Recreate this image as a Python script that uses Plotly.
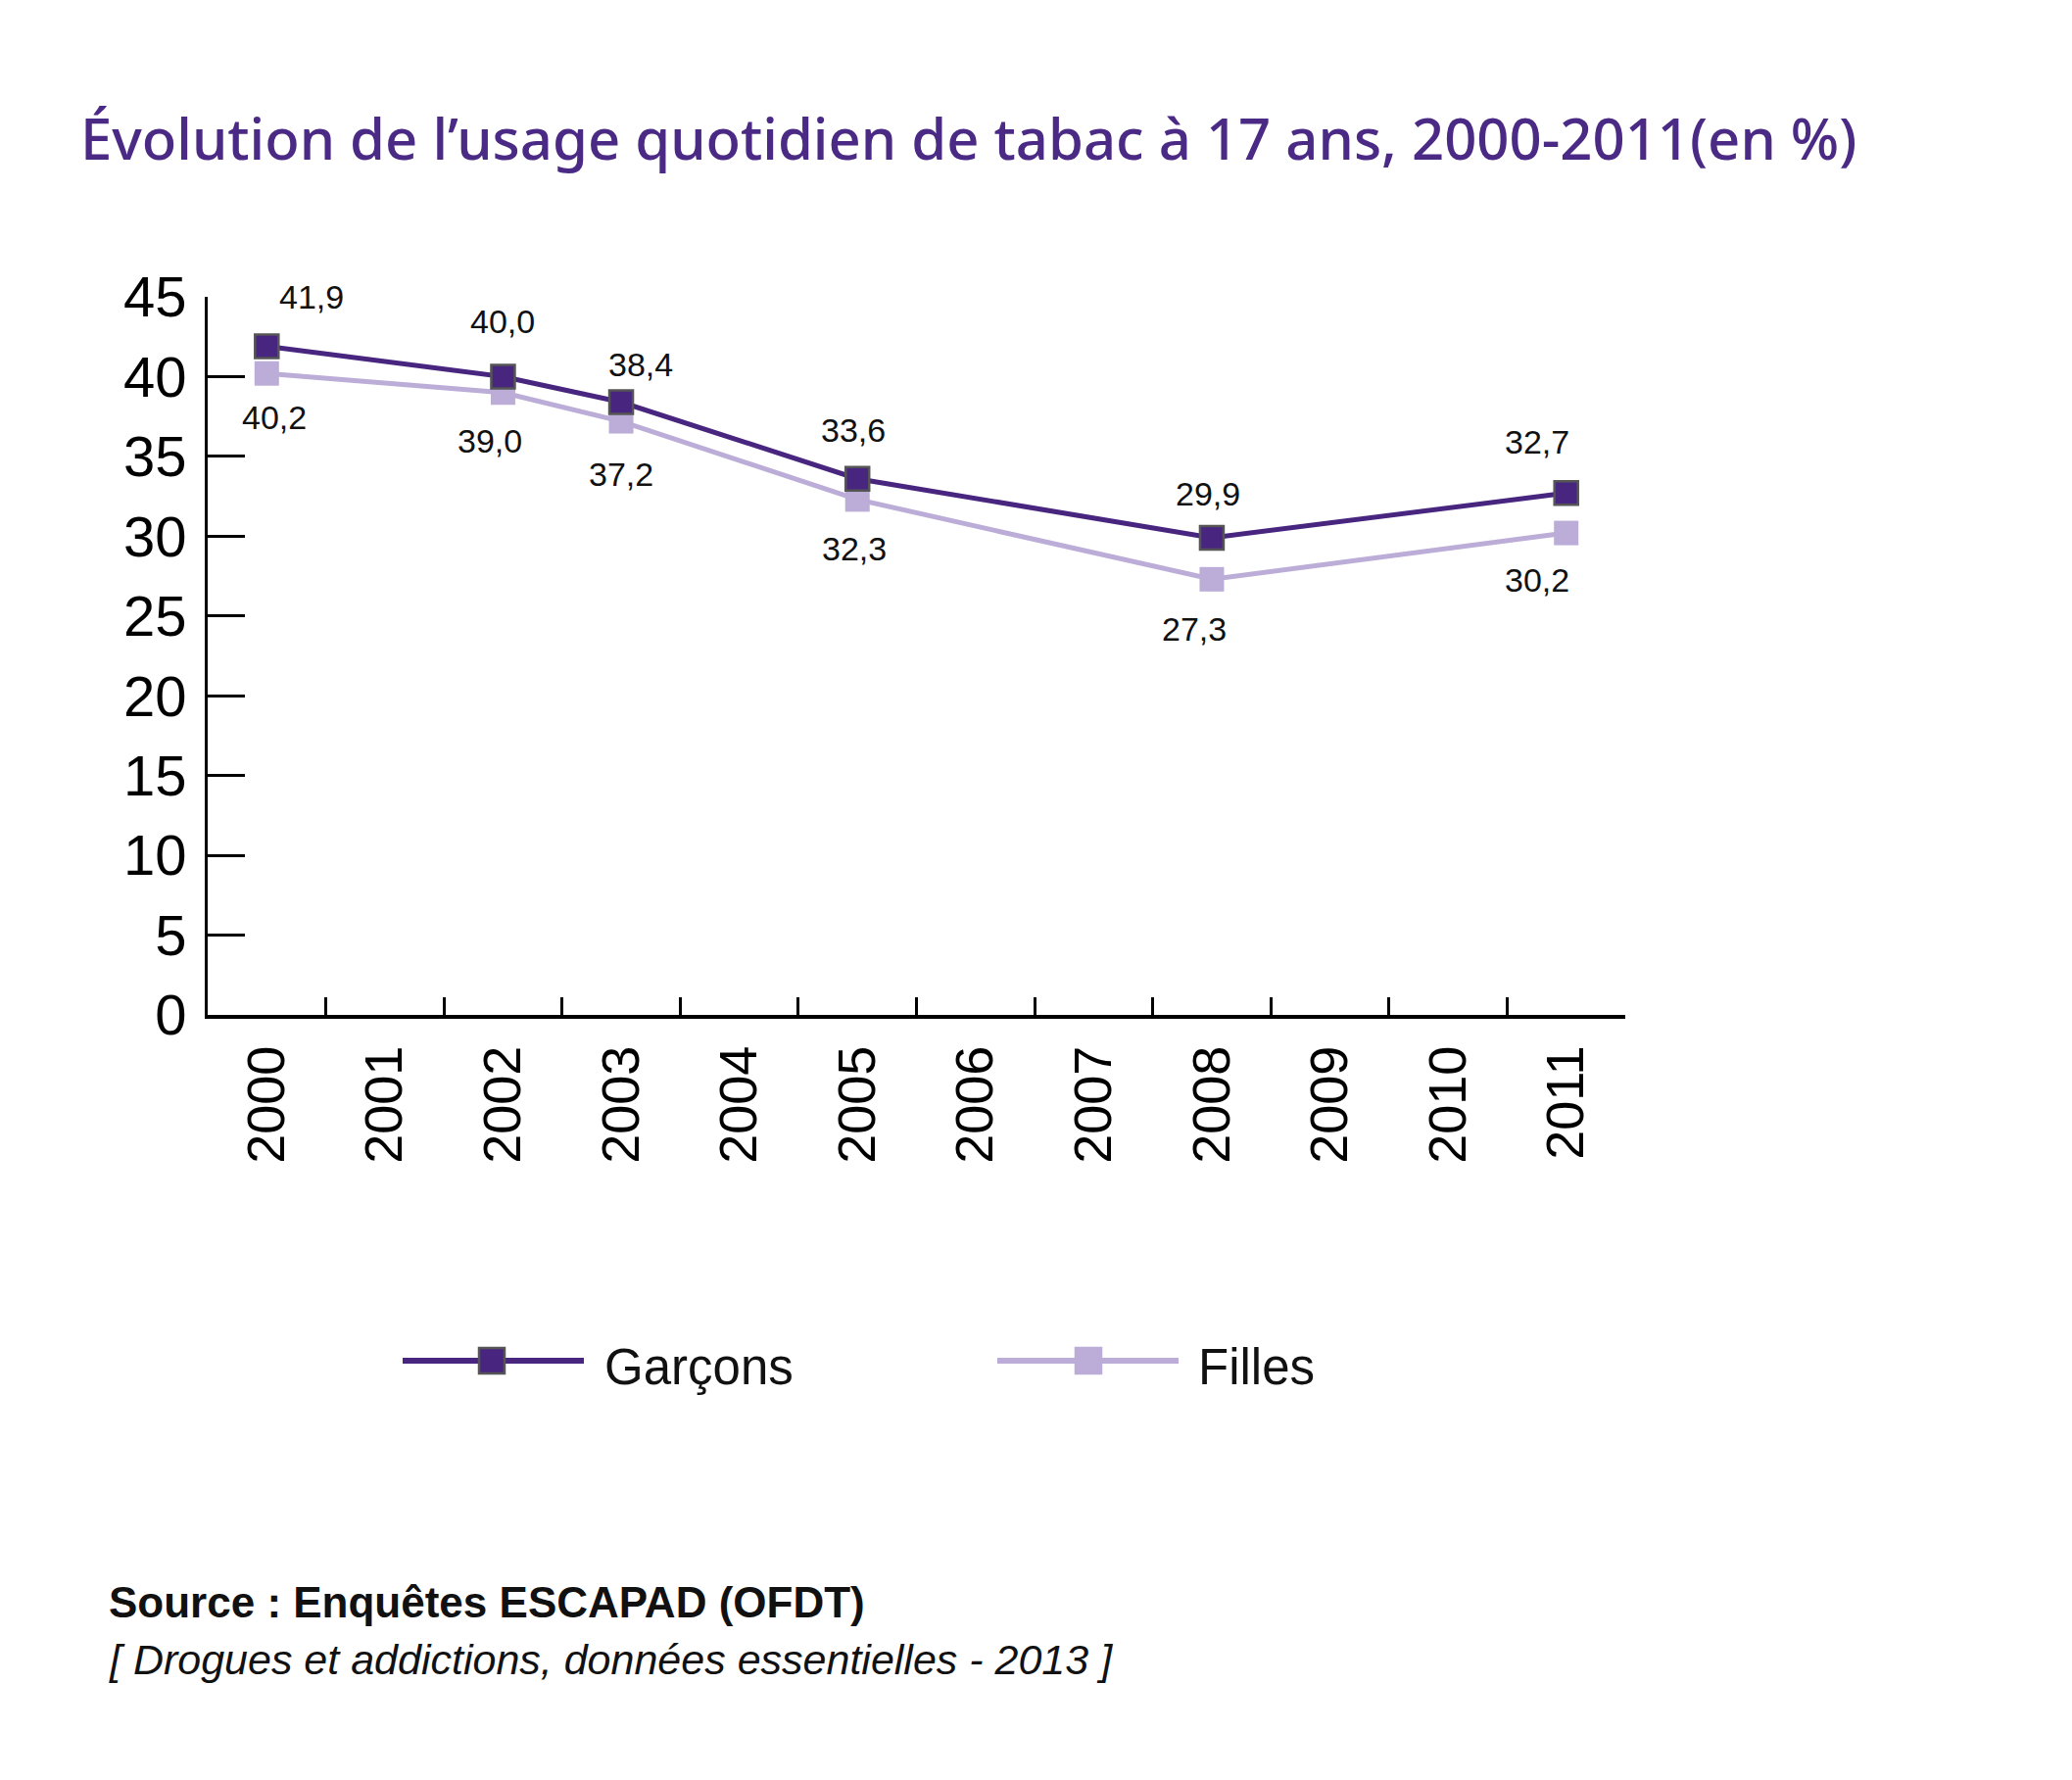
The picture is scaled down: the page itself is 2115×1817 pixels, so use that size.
import plotly.graph_objects as go

# ---- data ----
all_years = [str(y) for y in range(2000, 2012)]
survey_years = ["2000", "2002", "2003", "2005", "2008", "2011"]
garcons = [41.9, 40.0, 38.4, 33.6, 29.9, 32.7]
filles = [40.2, 39.0, 37.2, 32.3, 27.3, 30.2]
y_ticks = [0, 5, 10, 15, 20, 25, 30, 35, 40, 45]
series_names = ["Garçons", "Filles"]
title_text = "Évolution de l’usage quotidien de tabac à 17 ans, 2000-2011(en %)"
source_text = "Source : Enquêtes ESCAPAD (OFDT)"
ref_text = "[ Drogues et addictions, données essentielles - 2013 ]"

# ---- label offsets (pixels, screen: dx right, dy down) ----
g_off = [(46, -51), (0, -56), (20, -39), (-4, -50), (-4, -45), (-30, -52)]
f_off = [(8, 45), (-13, 49), (0, 54), (-3, 50), (-18, 51), (-30, 48)]

# ---- style ----
C_G = "#48267f"
C_F = "#bbadd7"
C_TITLE = "#4b2a85"
NARROW = "Liberation Sans Narrow, Liberation Sans, Arial, sans-serif"
SANS = "Liberation Sans, Arial, sans-serif"

W, H = 2115, 1817
OFF = 8  # page body margin
L, R, T, B = 204, 464, 295, 789
PW, PH = W - L - R, H - T - B


def px(x):
    return (x - OFF - L) / PW


def py(y):
    return ((H - B) - (y - OFF)) / PH


def fmt(v):
    return f"{v:.1f}".replace(".", ",")


fig = go.Figure()
fig.add_trace(go.Scatter(
    x=survey_years, y=filles, mode="lines+markers", name=series_names[1],
    line=dict(color=C_F, width=5),
    marker=dict(symbol="square", size=25, color=C_F, line=dict(width=0)),
    showlegend=False,
))
fig.add_trace(go.Scatter(
    x=survey_years, y=garcons, mode="lines+markers", name=series_names[0],
    line=dict(color=C_G, width=5),
    marker=dict(symbol="square", size=24, color=C_G, line=dict(width=2.5, color="#555555")),
    showlegend=False,
))

annotations = []
for xv, v, (dx, dy) in zip(survey_years, garcons, g_off):
    annotations.append(dict(x=all_years.index(xv), y=v, xref="x", yref="y", text=fmt(v), showarrow=False,
                            xshift=dx, yshift=-dy, font=dict(family=NARROW, size=34, color="#111111")))
for xv, v, (dx, dy) in zip(survey_years, filles, f_off):
    annotations.append(dict(x=all_years.index(xv), y=v, xref="x", yref="y", text=fmt(v), showarrow=False,
                            xshift=dx, yshift=-dy, font=dict(family=NARROW, size=34, color="#111111")))

# title
annotations.append(dict(x=px(80), y=py(140), xref="paper", yref="paper", xanchor="left", yanchor="middle",
                        text=title_text, showarrow=False,
                        font=dict(family="Noto Sans, Open Sans, sans-serif", size=58, color=C_TITLE, weight=500)))
# legend texts
annotations.append(dict(x=px(615), y=py(1395), xref="paper", yref="paper", xanchor="left", yanchor="middle",
                        text=series_names[0], showarrow=False, font=dict(family=NARROW, size=51, color="#111111")))
annotations.append(dict(x=px(1221), y=py(1395), xref="paper", yref="paper", xanchor="left", yanchor="middle",
                        text=series_names[1], showarrow=False, font=dict(family=NARROW, size=51, color="#111111")))
# source
annotations.append(dict(x=px(109), y=py(1635), xref="paper", yref="paper", xanchor="left", yanchor="middle",
                        text="<b>" + source_text + "</b>", showarrow=False,
                        font=dict(family=NARROW, size=44, color="#111111")))
annotations.append(dict(x=px(109), y=py(1694), xref="paper", yref="paper", xanchor="left", yanchor="middle",
                        text="<i>" + ref_text + "</i>", showarrow=False,
                        font=dict(family=NARROW, size=43, color="#111111")))

shapes = []
# legend glyphs
for (x0, x1, xc, yc, col, border) in [(411, 596, 502, 1389, C_G, "#555555"), (1018, 1203, 1111, 1389, C_F, C_F)]:
    shapes.append(dict(type="line", xref="paper", yref="paper", x0=px(x0), x1=px(x1), y0=py(yc), y1=py(yc),
                       line=dict(color=col, width=6)))
    shapes.append(dict(type="rect", xref="paper", yref="paper", x0=px(xc - 13), x1=px(xc + 13),
                       y0=py(yc - 13), y1=py(yc + 13), fillcolor=col, line=dict(color=border, width=2.5)))

fig.update_layout(
    width=W, height=H,
    margin=dict(l=L, r=R, t=T, b=B),
    paper_bgcolor="white", plot_bgcolor="white",
    annotations=annotations, shapes=shapes,
    xaxis=dict(type="category", categoryorder="array", categoryarray=all_years,
               range=[-0.5, 11.5], tickson="boundaries", ticks="inside", ticklen=18, tickwidth=3,
               tickcolor="black", showline=True, linewidth=4, linecolor="black", showgrid=False,
               zeroline=False, tickangle=-90, ticklabelstandoff=6,
               tickfont=dict(family=SANS, size=54, color="black")),
    yaxis=dict(range=[0, 45], tickvals=y_ticks, ticks="inside", ticklen=38, tickwidth=3,
               tickcolor="black", showline=True, linewidth=3, linecolor="black", showgrid=False,
               zeroline=False, ticklabelstandoff=7,
               tickfont=dict(family=NARROW, size=58, color="black")),
)

fig.write_html("out.html")
